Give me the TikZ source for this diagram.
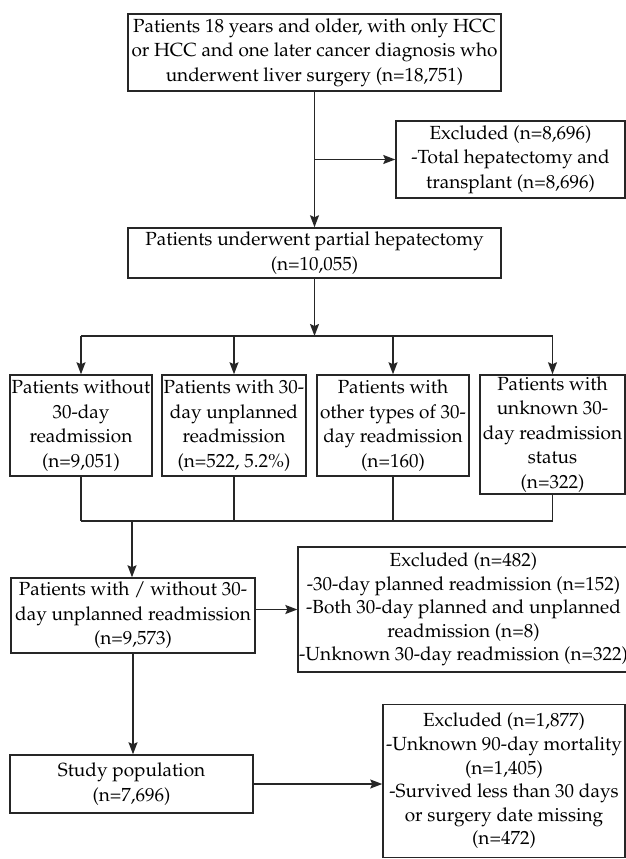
\documentclass[tikz,border=0pt]{standalone}
\usepackage[T1]{fontenc}
\usepackage{mathpazo}
\usepackage{xcolor}
\usepackage{tikz}
\usetikzlibrary{arrows.meta}
\usetikzlibrary{positioning}

\begin{document}
\begin{tikzpicture}[x=1pt,y=-1pt,
    box/.style={draw=black!85,line width=1.5pt,align=center,inner xsep=1pt,inner ysep=0pt,
                font=\fontsize{19}{24.5}\selectfont},
    tight/.style={font=\fontsize{19}{23.6}\selectfont},
    arr/.style={draw=black!85,line width=1.5pt,-{Stealth[length=12pt,width=9pt,inset=2pt]}},
    ln/.style={draw=black!85,line width=1.5pt}]

  \useasboundingbox (0,0) rectangle (626,859);

  % screening part
  \node[box,minimum width=373pt,minimum height=77pt] (all) at (314.5,52.5)
    {Patients 18 years and older, with only HCC\\or HCC and one later cancer diagnosis who\\underwent liver surgery (n=18,751)};
  \node[box,minimum width=229pt,minimum height=77pt] (excl1) at (510.5,159.5)
    {Excluded (n=8,696)\\-Total hepatectomy and\\transplant (n=8,696)};
  \node[box,minimum width=373pt,minimum height=50pt] (partial) at (314.5,253)
    {Patients underwent partial hepatectomy\\(n=10,055)};

  \draw[arr] (all) -- (partial);
  \draw[arr] (all.south |- excl1.west) -- (excl1.west);

  % the four readmission groups
  \node[box,minimum width=142pt,minimum height=101pt] (without) at (81,425.5)
    {Patients without\\30-day\\readmission\\(n=9,051)};
  \node[box,minimum width=144pt,minimum height=101pt] (unplanned) at (234,425.5)
    {Patients with 30-\\day unplanned\\readmission\\(n=522, 5.2\%)};
  \node[box,minimum width=152pt,minimum height=101pt] (other) at (393,425.5)
    {Patients with\\other types of 30-\\day readmission\\(n=160)};
  \node[box,minimum width=145pt,minimum height=119pt] (unknown) at (552.5,434.5)
    {Patients with\\unknown 30-\\day readmission\\status\\(n=322)};

  \coordinate (Split) at (partial.south |- 0,336);
  \coordinate (Join)  at (132,521);

  \draw[arr] (partial) -- (Split);
  \draw[ln] (without.north |- Split) -- (unknown.north |- Split);
  \draw[ln] (without.south |- Join) -- (unknown.south |- Join);
  \foreach \grp in {without,unplanned,other,unknown}
  {
    \draw[arr] (\grp.north |- Split) -- (\grp.north);
    \draw[ln] (\grp.south) -- (\grp.south |- Join);
  }

  % analysis part
  \node[box,minimum width=244pt,minimum height=75pt] (withwithout) at (133,615.5)
    {Patients with / without 30-\\day unplanned readmission\\(n=9,573)};
  \node[box,tight,minimum width=323pt,minimum height=125pt] (excl2) at (463.5,609.5)
    {Excluded (n=482)\\-30-day planned readmission (n=152)\\-Both 30-day planned and unplanned\\readmission (n=8)\\-Unknown 30-day readmission (n=322)};
  \node[box,minimum width=243pt,minimum height=58pt] (study) at (131.5,784)
    {Study population\\(n=7,696)};
  \node[box,tight,minimum width=242pt,minimum height=153pt] (excl3) at (504,781)
    {Excluded (n=1,877)\\-Unknown 90-day mortality\\(n=1,405)\\-Survived less than 30 days\\or surgery date missing\\(n=472)};

  \draw[arr] (Join) -- (Join |- withwithout.north);
  \draw[arr] (withwithout.east |- excl2.west) -- (excl2.west);
  \draw[arr] (withwithout.south) -- (withwithout.south |- study.north);
  \draw[arr] (study.east) -- (study.east -| excl3.west);

\end{tikzpicture}
\end{document}
